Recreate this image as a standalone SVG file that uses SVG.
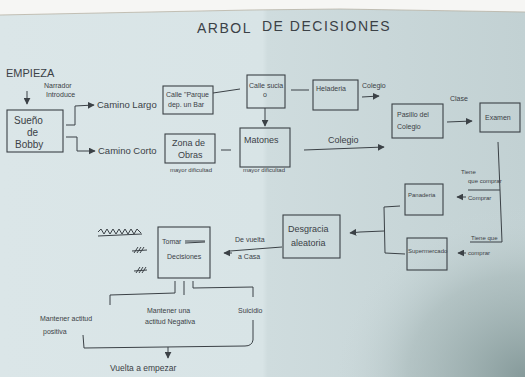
<svg xmlns="http://www.w3.org/2000/svg" width="525" height="377" viewBox="0 0 525 377">
<defs>
<linearGradient id="paper" x1="0" y1="0" x2="1" y2="0">
<stop offset="0" stop-color="#dbe6e8"/>
<stop offset="0.5" stop-color="#d8e4e6"/>
<stop offset="0.51" stop-color="#cfdcde"/>
<stop offset="1" stop-color="#c2d1d3"/>
</linearGradient>
<radialGradient id="shade" cx="1" cy="1" r="0.75">
<stop offset="0" stop-color="#7f9494" stop-opacity="0.9"/>
<stop offset="0.6" stop-color="#9fb1b1" stop-opacity="0.5"/>
<stop offset="1" stop-color="#cfdcde" stop-opacity="0"/>
</radialGradient>
<marker id="ah" viewBox="0 0 10 10" refX="9" refY="5" markerWidth="7" markerHeight="7" orient="auto-start-reverse" markerUnits="userSpaceOnUse">
<path d="M0,0 L10,5 L0,10 Z" fill="#3b4146"/>
</marker>
<style>
.t{font-family:"Liberation Sans","DejaVu Sans",sans-serif;fill:#3b4146;font-size:9px}
.s{font-size:7px}
.xs{font-size:6px}
.box{fill:none;stroke:#3b4146;stroke-width:1.1}
.ln{fill:none;stroke:#3b4146;stroke-width:1}
</style>
</defs>
<rect x="0" y="0" width="525" height="377" fill="url(#paper)"/>
<rect x="265" y="150" width="260" height="227" fill="url(#shade)"/>
<path d="M0,0 H525 V12 L340,9 L250,10 L0,15 Z" fill="#f6f6f4"/>
<path d="M0,15 L250,10 L340,9 L525,12" fill="none" stroke="#b8b2a4" stroke-width="0.8"/>

<text class="t" x="197" y="33" style="font-size:14px;letter-spacing:1.5px">ARBOL</text>
<text class="t" x="262" y="31" style="font-size:14px;letter-spacing:1.5px">DE DECISIONES</text>

<g id="start">
<text class="t" x="6" y="77" style="font-size:11px">EMPIEZA</text>
<text class="t s" x="44" y="88">Narrador</text>
<text class="t s" x="46" y="97">Introduce</text>
</g>

<g id="sueno">
<rect class="box" x="7" y="110" width="56" height="42"/>
<text class="t" x="14" y="124" style="font-size:10px">Sueño</text>
<text class="t" x="27" y="136" style="font-size:10px">de</text>
<text class="t" x="15" y="148" style="font-size:10px">Bobby</text>
</g>

<g id="calle-parque">
<rect class="box" x="163" y="86" width="50" height="28"/>
<text class="t s" x="166" y="97">Calle "Parque</text>
<text class="t s" x="168" y="107">dep. un Bar</text>
</g>

<g id="calle-sucia">
<rect class="box" x="247" y="75" width="38" height="33"/>
<text class="t s" x="249" y="88">Calle sucia</text>
<text class="t s" x="263" y="97">o</text>
</g>

<g id="heladeria">
<rect class="box" x="313" y="80" width="45" height="30"/>
<text class="t s" x="316" y="91">Heladeria</text>
</g>

<g id="zona-obras">
<rect class="box" x="165" y="134" width="50" height="29"/>
<text class="t" x="172" y="146">Zona de</text>
<text class="t" x="178" y="158">Obras</text>
<text class="t xs" x="170" y="172">mayor dificultad</text>
</g>

<g id="matones">
<rect class="box" x="240" y="128" width="50" height="39"/>
<text class="t" x="244" y="143">Matones</text>
<text class="t xs" x="243" y="172">mayor dificultad</text>
</g>

<g id="pasillo">
<rect class="box" x="392" y="104" width="51" height="34"/>
<text class="t s" x="397" y="117">Pasillo del</text>
<text class="t s" x="397" y="129">Colegio</text>
</g>

<g id="examen">
<rect class="box" x="480" y="103" width="40" height="29"/>
<text class="t s" x="485" y="120">Examen</text>
</g>

<g id="panaderia">
<rect class="box" x="405" y="184" width="38" height="31"/>
<text class="t xs" x="408" y="197">Panaderia</text>
</g>

<g id="supermercado">
<rect class="box" x="407" y="238" width="40" height="32"/>
<text class="t xs" x="408" y="253">Supermercado</text>
</g>

<g id="desgracia">
<rect class="box" x="283" y="215" width="57" height="43"/>
<text class="t" x="288" y="232">Desgracia</text>
<text class="t" x="291" y="246">aleatoria</text>
</g>

<g id="tomar">
<rect class="box" x="158" y="227" width="52" height="51"/>
<text class="t s" x="162" y="244">Tomar</text>
<path class="ln" d="M185,241 L205,241 M185,243 L205,242" stroke-width="1.2"/>
<text class="t s" x="167" y="259">Decisiones</text>
<path class="ln" d="M98,232 l3,-3 l3,5 l3,-5 l3,5 l3,-5 l3,5 l3,-5 l3,5 l3,-5 l3,5 l3,-5 l3,5 l3,-5 l4,4 M98,236 l44,-2" stroke-width="1.3"/>
<path class="ln" d="M134,253 l4,-6 M137,253 l4,-6 M140,253 l4,-6 M132,251 l15,-1" stroke-width="0.9"/>
<path class="ln" d="M136,273 l4,-6 M139,273 l4,-6 M142,273 l4,-6 M134,271 l13,-1" stroke-width="0.9"/>
</g>

<g id="outcomes">
<text class="t s" x="40" y="321">Mantener actitud</text>
<text class="t s" x="43" y="334">positiva</text>
<text class="t s" x="147" y="313">Mantener una</text>
<text class="t s" x="145" y="324">actitud Negativa</text>
<text class="t s" x="238" y="313">Suicidio</text>
</g>

<g id="vuelta">
<text class="t" x="110" y="371" style="font-size:8.5px">Vuelta a empezar</text>
</g>

<g id="connectors">
<path class="ln" d="M27,91 L27,104" marker-end="url(#ah)"/>
<path class="ln" d="M66,125 L75,125 L75,106 L94,105" marker-end="url(#ah)"/>
<text class="t" x="97" y="108" style="font-size:9.5px">Camino Largo</text>
<path class="ln" d="M66,137 L77,137 L77,151 L95,151" marker-end="url(#ah)"/>
<text class="t" x="98" y="154" style="font-size:9.5px">Camino Corto</text>
<path class="ln" d="M213,93 L240,89"/>
<path class="ln" d="M265,108 L265,126" marker-end="url(#ah)"/>
<path class="ln" d="M291,90 L309,90"/>
<path class="ln" d="M362,97 L379,96" marker-end="url(#ah)"/>
<text class="t s" x="362" y="88">Colegio</text>
<path class="ln" d="M221,150 L231,150"/>
<path class="ln" d="M304,150 L384,147" marker-end="url(#ah)"/>
<text class="t" x="328" y="143">Colegio</text>
<path class="ln" d="M447,122 L472,121" marker-end="url(#ah)"/>
<text class="t s" x="450" y="101">Clase</text>
<path class="ln" d="M498,142 L500,190 L468,190"/>
<text class="t xs" x="461" y="174">Tiene</text>
<text class="t xs" x="468" y="183">que comprar</text>
<path class="ln" d="M466,197 L457,197" marker-end="url(#ah)"/>
<text class="t xs" x="468" y="200">Comprar</text>
<path class="ln" d="M500,190 L502,242 L470,242"/>
<text class="t xs" x="471" y="240">Tiene que</text>
<path class="ln" d="M466,253 L458,253" marker-end="url(#ah)"/>
<text class="t xs" x="468" y="255">comprar</text>
<path class="ln" d="M400,206 L384,207 L385,253 L405,254 M384,231 L360,232"/>
<path class="ln" d="M360,232 L350,233" marker-end="url(#ah)"/>
<path class="ln" d="M282,247 L230,251"/>
<path class="ln" d="M232,253 L224,253" marker-end="url(#ah)"/>
<text class="t s" x="235" y="242">De vuelta</text>
<text class="t s" x="238" y="259">a Casa</text>
<path class="ln" d="M175,281 L175,293 L110,295 L110,305"/>
<path class="ln" d="M184,281 L184,295"/>
<path class="ln" d="M193,281 L193,288 L253,287 L253,297"/>
<path class="ln" d="M253,320 L253,340 Q252,346 245,346 L84,348 L83,335"/>
<path class="ln" d="M168,347 L168,358" marker-end="url(#ah)"/>
</g>
</svg>
